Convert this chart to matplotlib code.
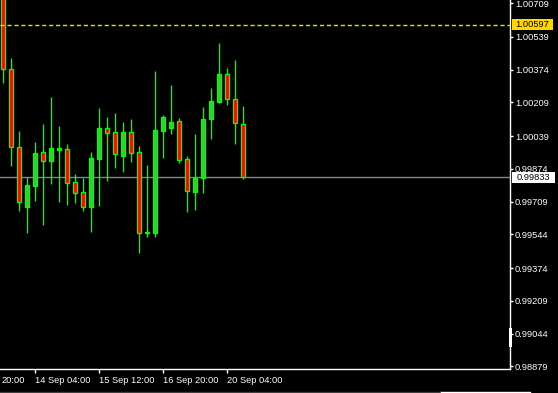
import matplotlib
matplotlib.use("Agg")
import matplotlib.pyplot as plt
from matplotlib.patches import Rectangle
from matplotlib.lines import Line2D

# H4 candles
opens = [1.00800, 1.00376, 0.99983, 0.99680, 0.99789, 0.99957, 0.99915, 0.99970,
         0.99972, 0.99806, 0.99756, 0.99683, 0.99925, 1.00078, 1.00058, 0.99937,
         1.00058, 0.99957, 0.99553, 0.99553, 1.00066, 1.00081, 1.00114, 0.99923,
         0.99759, 0.99829, 1.00127, 1.00212, 1.00352, 1.00226, 1.00100]
highs = [1.00850, 1.00431, 1.00065, 0.99834, 1.00008, 1.00099, 1.00235, 1.00090,
         0.99999, 0.99848, 0.99826, 0.99957, 1.00181, 1.00135, 1.00155, 1.00110,
         1.00125, 0.99989, 0.99893, 1.00367, 1.00145, 1.00297, 1.00131, 0.99939,
         1.00050, 1.00186, 1.00281, 1.00508, 1.00382, 1.00423, 1.00191]
lows = [1.00305, 0.99890, 0.99663, 0.99552, 0.99713, 0.99591, 0.99799, 0.99708,
        0.99693, 0.99700, 0.99663, 0.99557, 0.99688, 0.99814, 0.99880, 0.99860,
        0.99910, 0.99451, 0.99532, 0.99532, 0.99930, 1.00051, 0.99905, 0.99658,
        0.99668, 0.99754, 1.00024, 1.00207, 1.00197, 1.00001, 0.99824]
closes = [1.00376, 0.99983, 0.99708, 0.99793, 0.99952, 0.99915, 0.99978, 0.99979,
          0.99801, 0.99754, 0.99680, 0.99927, 1.00078, 1.00056, 0.99950, 1.00058,
          0.99955, 0.99553, 0.99555, 1.00070, 1.00134, 1.00109, 0.99921, 0.99760,
          0.99827, 1.00125, 1.00216, 1.00352, 1.00224, 1.00103, 0.99833]

price_ticks = [1.00709, 1.00539, 1.00374, 1.00209, 1.00039, 0.99874,
               0.99709, 0.99544, 0.99374, 0.99209, 0.99044, 0.98879]
time_tick_pos = [-0.17, 4, 12, 20, 28]
time_tick_labels = ["20:00", "14 Sep 04:00", "15 Sep 12:00", "16 Sep 20:00", "20 Sep 04:00"]

bid_price = 0.99833
level_price = 1.00597

W, H = 558, 393
fig = plt.figure(figsize=(W / 100, H / 100), dpi=100, facecolor="black")
ax = fig.add_axes([0, 24 / H, 510 / W, 369 / H], facecolor="black")

lime = "#00ff00"
n = len(opens)
xs = list(range(n))

# wicks
ax.vlines(xs, lows, highs, color=lime, linewidth=1, zorder=2)

# bodies
for i in xs:
    o, c = opens[i], closes[i]
    fill = "#32cd32" if c >= o else "#ff0000"
    bottom = min(o, c)
    height = max(abs(c - o), 0.000005)
    ax.bar(i, height, bottom=bottom, width=0.5, color=fill,
           edgecolor=lime, linewidth=1, zorder=3)

# horizontal lines
ax.axhline(level_price, color="#ffd700", linewidth=1, linestyle=(0, (3, 2)), zorder=4)
ax.axhline(bid_price, color="#778899", linewidth=1, zorder=1)

ax.set_xlim(-3.33 / 8, (510 - 3.33) / 8)
ax.set_ylim(1.00725 - 369 * 0.0000504, 1.00725)

# axes look
for side in ["top", "left"]:
    ax.spines[side].set_visible(False)
for side in ["right", "bottom"]:
    ax.spines[side].set_color("white")
    ax.spines[side].set_linewidth(1)

ax.yaxis.tick_right()
ax.set_yticks(price_ticks)
ax.set_yticklabels(["%.5f" % p for p in price_ticks])
ax.tick_params(axis="y", colors="white", length=2.5, width=1, pad=1,
               labelsize=6.7, labelfontfamily="Liberation Sans")

ax.set_xticks(time_tick_pos)
ax.set_xticklabels(time_tick_labels)
ax.tick_params(axis="x", colors="white", length=3, width=1, pad=2,
               labelsize=6.7, labelfontfamily="Liberation Sans")
for lab in ax.get_xticklabels():
    lab.set_horizontalalignment("left")
ax.xaxis.get_major_ticks()[0].tick1line.set_visible(False)

# price boxes on the right scale
fig.patches.append(Rectangle((512 / W, 1 - 29.5 / H), 41 / W, 10.5 / H,
                             transform=fig.transFigure, facecolor="#ffd700",
                             edgecolor="none", zorder=5))
fig.text(532.5 / W, 1 - 24.5 / H, "%.5f" % level_price, color="black",
         fontsize=6.7, family="Liberation Sans", ha="center", va="center", zorder=6)
fig.patches.append(Rectangle((512 / W, 1 - 182.5 / H), 43 / W, 11 / H,
                             transform=fig.transFigure, facecolor="white",
                             edgecolor="none", zorder=5))
fig.text(533 / W, 1 - 177 / H, "%.5f" % bid_price, color="black",
         fontsize=6.7, family="Liberation Sans", ha="center", va="center", zorder=6)

# small white marker on the scale and bottom strip
fig.patches.append(Rectangle((509 / W, 1 - 347 / H), 3 / W, 19 / H,
                             transform=fig.transFigure, facecolor="white",
                             edgecolor="none", zorder=5))
fig.lines.append(Line2D([0, 441 / W], [1 - 392 / H] * 2, transform=fig.transFigure,
                        color="#404040", linewidth=1))
fig.lines.append(Line2D([441 / W, 530 / W], [1 - 392 / H] * 2, transform=fig.transFigure,
                        color="white", linewidth=1))

fig.savefig("out.png", dpi=100, facecolor="black")
